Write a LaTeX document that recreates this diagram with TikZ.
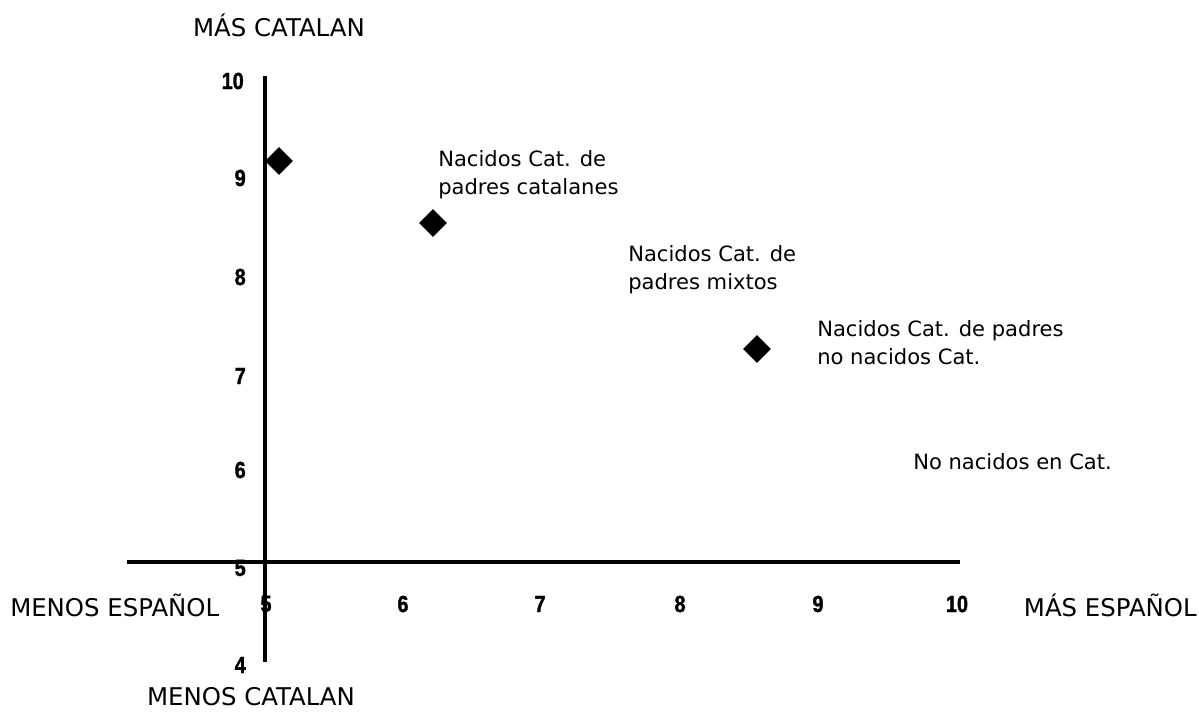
\documentclass[tikz,border=0pt]{standalone}
\usepackage{fontspec}
\setmainfont{DejaVu Sans}
\newfontfamily\numfont[FakeStretch=0.85,FakeBold=1.5]{Liberation Sans}
\usetikzlibrary{shapes.geometric}
\begin{document}
\begin{tikzpicture}[x=0.75pt,y=-0.75pt,
  axis/.style={line width=2.5pt,black},
  num/.style={font=\numfont\bfseries\fontsize{17.5pt}{20pt}\selectfont,inner sep=0pt},
  lab/.style={font=\fontsize{15.8pt}{21pt}\selectfont,align=left,inner sep=0pt,anchor=west},
  ttl/.style={font=\fontsize{18.3pt}{22pt}\selectfont,inner sep=0pt},
  pt/.style={diamond,fill=black,draw=none,inner sep=0pt,minimum width=21pt,minimum height=21pt}]
\useasboundingbox (0,0) rectangle (1199,714);
% axes
\coordinate (ytop) at (265,76);
\coordinate (ybot) at (265,662);
\coordinate (xl) at (127,562);
\coordinate (xr) at (960,562);
\draw[axis] (ytop) -- (ybot);
\draw[axis] (xl) -- (xr);
% y tick labels
\node[num,anchor=east] (y10) at (244,81) {10};
\node[num,anchor=east] (y9) at (246,178) {9};
\node[num,anchor=east] (y8) at (246,277) {8};
\node[num,anchor=east] (y7) at (246,376) {7};
\node[num,anchor=east] (y6) at (246,470) {6};
\node[num,anchor=east] (y5) at (246,568) {5};
\node[num,anchor=east] (y4) at (246,665) {4};
% x tick labels
\node[num] (x5) at (266,604) {5};
\node[num] (x6) at (403,604) {6};
\node[num] (x7) at (540,604) {7};
\node[num] (x8) at (680,604) {8};
\node[num] (x9) at (818,604) {9};
\node[num] (x10) at (957,604) {10};
% axis titles
\node[ttl] (tmc) at (279,25) {MÁS CATALAN};
\node[ttl] (tmnc) at (251,697) {MENOS CATALAN};
\node[ttl,anchor=west] (tme) at (10,605) {MENOS ESPAÑOL};
\node[ttl,anchor=east] (tmae) at (1197,605) {MÁS ESPAÑOL};
% points
\node[pt] (p1) at (279,161) {};
\node[pt] (p2) at (433,223) {};
\node[pt] (p3) at (757,349) {};
% labels
\node[lab] (l1) at (438,175) {Nacidos Cat. de\\padres catalanes};
\node[lab] (l2) at (628,270) {Nacidos Cat. de\\padres mixtos};
\node[lab] (l3) at (817,343) {Nacidos Cat. de padres\\no nacidos Cat.};
\node[lab] (l4) at (913,462) {No nacidos en Cat.};
\end{tikzpicture}
\end{document}
